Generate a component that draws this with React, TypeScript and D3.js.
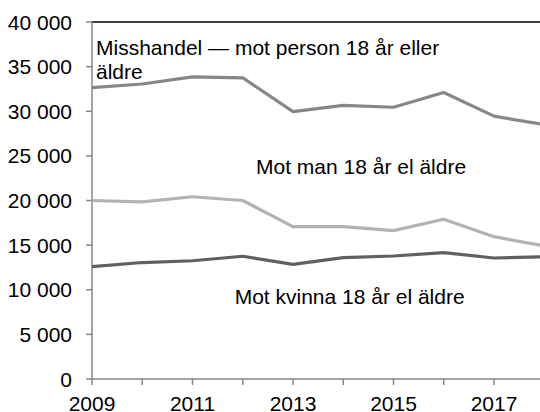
import React from "react";
import * as d3 from "d3";

const years = [2009, 2010, 2011, 2012, 2013, 2014, 2015, 2016, 2017, 2018];
const personValues = [32650, 33050, 33850, 33750, 29950, 30650, 30450, 32100, 29450, 28500];
const manValues = [20000, 19850, 20420, 20000, 17080, 17080, 16620, 17900, 15950, 14900];
const kvinnaValues = [12600, 13050, 13250, 13750, 12850, 13600, 13780, 14150, 13560, 13700];
const yTicks = [0, 5000, 10000, 15000, 20000, 25000, 30000, 35000, 40000];
const xLabelYears = [2009, 2011, 2013, 2015, 2017];

const W = 540;
const H = 412;
const FONT = "'Liberation Sans', Arial, sans-serif";

const fmt = (v: number) => {
  const s = String(v);
  return s.length > 3 ? s.slice(0, s.length - 3) + "\u00a0" + s.slice(-3) : s;
};

export default function App() {
  const x = d3.scaleLinear().domain([2009, 2017]).range([92, 494]);
  const y = d3.scaleLinear().domain([0, 40000]).range([379, 22]);
  const line = d3
    .line<number>()
    .x((_, i) => x(years[i]))
    .y((d) => y(d));

  const series = [
    { values: kvinnaValues, color: "#606060" },
    { values: manValues, color: "#b3b3b3" },
    { values: personValues, color: "#878787" },
  ];

  return (
    <svg
      width={W}
      height={H}
      style={{ position: "fixed", left: 0, top: 0, background: "#fff" }}
      fontFamily={FONT}
    >
      <rect x={0} y={0} width={W} height={H} fill="#fff" />
      {/* top border */}
      <line x1={x(2009)} x2={W} y1={y(40000)} y2={y(40000)} stroke="#000" strokeWidth={1.5} />
      {/* y axis */}
      <line x1={x(2009)} x2={x(2009)} y1={y(40000)} y2={y(0)} stroke="#868686" strokeWidth={1.5} />
      {yTicks.map((t) => (
        <g key={t}>
          <line x1={x(2009) - 6} x2={x(2009)} y1={y(t)} y2={y(t)} stroke="#868686" strokeWidth={1.5} />
          <text x={72} y={y(t)} dy="0.36em" textAnchor="end" fontSize={21} fill="#000">
            {fmt(t)}
          </text>
        </g>
      ))}
      {/* x axis */}
      <line x1={x(2009)} x2={W} y1={y(0)} y2={y(0)} stroke="#868686" strokeWidth={1.5} />
      {years.map((yr) => (
        <line key={yr} x1={x(yr)} x2={x(yr)} y1={y(0)} y2={y(0) + 6} stroke="#868686" strokeWidth={1.5} />
      ))}
      {xLabelYears.map((yr) => (
        <text key={yr} x={x(yr)} y={411} textAnchor="middle" fontSize={21} fill="#000">
          {yr}
        </text>
      ))}
      {series.map((s, i) => (
        <path
          key={i}
          d={line(s.values) || ""}
          fill="none"
          stroke={s.color}
          strokeWidth={3.2}
          strokeLinejoin="round"
        />
      ))}
      <text x={96} y={55} fontSize={21} fill="#000">
        Misshandel — mot person 18 år eller
      </text>
      <text x={96} y={78.5} fontSize={21} fill="#000">
        äldre
      </text>
      <text x={256} y={174} fontSize={21} fill="#000">
        Mot man 18 år el äldre
      </text>
      <text x={234.7} y={304} fontSize={21} fill="#000">
        Mot kvinna 18 år el äldre
      </text>
    </svg>
  );
}
